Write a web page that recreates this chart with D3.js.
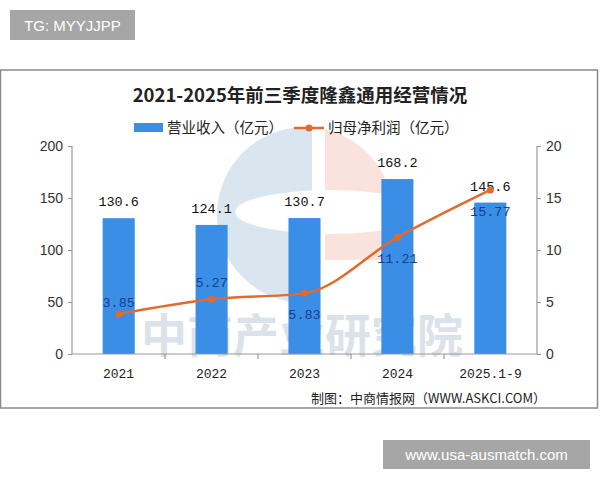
<!DOCTYPE html>
<html><head><meta charset="utf-8">
<script src="https://cdn.jsdelivr.net/npm/d3@7"></script>
<style>body{margin:0;background:#fff;}svg{display:block;}</style>
</head><body>
<svg id="c" width="600" height="480"></svg>
<script>
const categories = ["2021", "2022", "2023", "2024", "2025.1-9"];
const revenue = [130.6, 124.1, 130.7, 168.2, 145.6];
const profit = [3.85, 5.27, 5.83, 11.21, 15.77];
const leftTicks = [0, 50, 100, 150, 200];
const rightTicks = [0, 5, 10, 15, 20];
const profitLabelAbove = [true, true, false, false, false];

const svg = d3.select("#c");
const cjk = "'Noto Sans CJK SC', 'Noto Sans', sans-serif";
const mono = "'Liberation Mono', 'DejaVu Sans Mono', monospace";

// frame
svg.append("rect").attr("x", 0.5).attr("y", 70).attr("width", 597).attr("height", 338)
  .attr("fill", "#fff").attr("stroke", "#8a8a8a").attr("stroke-width", 1.5);

const x = d3.scaleBand().domain(categories).range([72, 537]).paddingInner(0.655).paddingOuter(0.33);
const xb = d3.scaleBand().domain(categories).range([72, 537]);
const yL = d3.scaleLinear().domain([0, 200]).range([354, 146]);
const yR = d3.scaleLinear().domain([0, 20]).range([354, 146]);

// logo watermark
const defs = svg.append("defs");
defs.append("clipPath").attr("id", "cl").append("rect").attr("x", 150).attr("y", 100).attr("width", 162).attr("height", 250);
defs.append("clipPath").attr("id", "cr").append("rect").attr("x", 325).attr("y", 100).attr("width", 120).attr("height", 160);
const logo = svg.append("g");
logo.append("circle").attr("cx", 305).attr("cy", 215).attr("r", 88).attr("fill", "#d9e5ef").attr("clip-path", "url(#cl)");
logo.append("circle").attr("cx", 305).attr("cy", 215).attr("r", 88).attr("fill", "#f9e3dc").attr("clip-path", "url(#cr)");
logo.append("ellipse").attr("cx", 330).attr("cy", 212).attr("rx", 95).attr("ry", 22).attr("fill", "#fff");

svg.append("text").attr("x", 302).attr("y", 352).attr("text-anchor", "middle")
  .attr("font-family", cjk).attr("font-weight", "bold").attr("font-size", 46)
  .attr("fill", "#d3dce5").attr("opacity", 0.8).text("中商产业研究院");

// bars
svg.append("g").selectAll("rect").data(revenue).join("rect")
  .attr("x", (d, i) => x(categories[i])).attr("width", x.bandwidth())
  .attr("y", d => yL(d)).attr("height", d => yL(0) - yL(d))
  .attr("fill", "#3a8ee6");

// axes
const axL = svg.append("g").attr("transform", "translate(72,0)")
  .call(d3.axisLeft(yL).tickValues(leftTicks).tickSize(4).tickPadding(5));
const axR = svg.append("g").attr("transform", "translate(537,0)")
  .call(d3.axisRight(yR).tickValues(rightTicks).tickSize(4).tickPadding(5));
[axL, axR].forEach(a => {
  a.selectAll("path,line").attr("stroke", "#999").attr("stroke-width", 1.2);
  a.selectAll("text").attr("font-family", "'Liberation Sans', Arial, sans-serif").attr("font-size", 14).attr("fill", "#333");
});
axL.select(".domain").attr("d", "M0,146V354");
axR.select(".domain").attr("d", "M0,146V354");

const axB = svg.append("g").attr("transform", "translate(0,354)");
axB.append("line").attr("x1", 72).attr("x2", 537).attr("stroke", "#999").attr("stroke-width", 1.2);
axB.selectAll(".tk").data(categories.slice(1)).join("line")
  .attr("x1", d => xb(d)).attr("x2", d => xb(d)).attr("y1", 0).attr("y2", 5)
  .attr("stroke", "#999").attr("stroke-width", 1.2);
axB.selectAll("text").data(categories).join("text")
  .attr("x", d => xb(d) + xb.bandwidth() / 2).attr("y", 24).attr("text-anchor", "middle")
  .attr("font-family", mono).attr("font-size", 13).attr("fill", "#222").text(d => d);

// revenue labels
svg.append("g").selectAll("text").data(revenue).join("text")
  .attr("x", (d, i) => x(categories[i]) + x.bandwidth() / 2).attr("y", d => yL(d) - 12)
  .attr("text-anchor", "middle").attr("font-family", mono).attr("font-size", 13.5).attr("fill", "#111")
  .text(d => d.toFixed(1));

// line
const cx = (i) => x(categories[i]) + x.bandwidth() / 2;
const line = d3.line().x((d, i) => cx(i)).y(d => yR(d)).curve(d3.curveMonotoneX);
svg.append("path").datum(profit).attr("d", line).attr("fill", "none")
  .attr("stroke", "#e4692d").attr("stroke-width", 2.5);
svg.append("g").selectAll("circle").data(profit).join("circle")
  .attr("cx", (d, i) => cx(i)).attr("cy", d => yR(d)).attr("r", 3.5).attr("fill", "#e4692d");

svg.append("g").selectAll("text").data(profit).join("text")
  .attr("x", (d, i) => cx(i)).attr("y", (d, i) => profitLabelAbove[i] ? yR(d) - (i === 0 ? 7 : 12) : yR(d) + 26)
  .attr("text-anchor", "middle").attr("font-family", mono).attr("font-size", 13.5).attr("fill", "#1c3d92")
  .text(d => d.toFixed(2));

// title
svg.append("text").attr("x", 300).attr("y", 102).attr("text-anchor", "middle")
  .attr("font-family", cjk).attr("font-weight", "bold").attr("font-size", 18.5).attr("fill", "#222")
  .text("2021-2025年前三季度隆鑫通用经营情况");

// legend
const lg = svg.append("g");
lg.append("rect").attr("x", 134).attr("y", 123).attr("width", 29).attr("height", 9).attr("fill", "#3a8ee6");
lg.append("text").attr("x", 167).attr("y", 133).attr("font-family", cjk).attr("font-size", 14.5).attr("fill", "#222").text("营业收入（亿元）");
lg.append("line").attr("x1", 294).attr("x2", 324).attr("y1", 128).attr("y2", 128).attr("stroke", "#e4692d").attr("stroke-width", 2.5);
lg.append("circle").attr("cx", 309).attr("cy", 128).attr("r", 3.5).attr("fill", "#e4692d");
lg.append("text").attr("x", 328).attr("y", 133).attr("font-family", cjk).attr("font-size", 14.5).attr("fill", "#222").text("归母净利润（亿元）");

// source
svg.append("text").attr("x", 546).attr("y", 403).attr("text-anchor", "end")
  .attr("font-family", cjk).attr("font-size", 13).attr("fill", "#222").text("制图：中商情报网（WWW.ASKCI.COM）");

// tag boxes
svg.append("rect").attr("x", 10).attr("y", 10).attr("width", 125).attr("height", 30).attr("fill", "#a6a6a6");
svg.append("text").attr("x", 72.5).attr("y", 30.5).attr("text-anchor", "middle")
  .attr("font-family", "'Liberation Sans', Arial, sans-serif").attr("font-size", 15).attr("fill", "#fff").text("TG: MYYJJPP");
svg.append("rect").attr("x", 383).attr("y", 440).attr("width", 207).attr("height", 29).attr("fill", "#a6a6a6");
svg.append("text").attr("x", 486.5).attr("y", 460).attr("text-anchor", "middle")
  .attr("font-family", "'Liberation Sans', Arial, sans-serif").attr("font-size", 15).attr("fill", "#fff").text("www.usa-ausmatch.com");
</script>
</body></html>
